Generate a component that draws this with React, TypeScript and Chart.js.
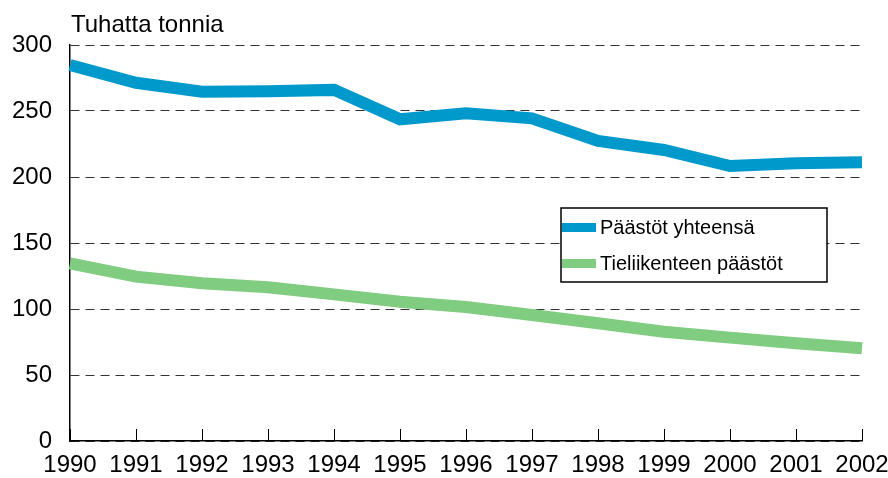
import React, { useEffect, useRef } from "react";
import { Chart, registerables } from "chart.js";

Chart.register(...registerables);

const years = ["1990", "1991", "1992", "1993", "1994", "1995", "1996", "1997", "1998", "1999", "2000", "2001", "2002"];
const totalEmissions = [284.8, 271.4, 264.6, 265.0, 266.0, 243.7, 248.2, 244.4, 227.3, 220.5, 208.3, 210.4, 211.1];
const roadEmissions = [134.6, 124.5, 119.5, 116.4, 111.1, 105.5, 101.5, 95.5, 89.2, 82.8, 78.3, 74.0, 70.2];
const seriesLabels = ["Päästöt yhteensä", "Tieliikenteen päästöt"];
const unitTitle = "Tuhatta tonnia";
const yMin = 0;
const yMax = 300;
const yStep = 50;

const FONT = "'Liberation Sans', Arial, sans-serif";

const decorPlugin = {
  id: "decor",
  afterDraw(chart: any) {
    const { ctx, chartArea } = chart;
    const xs = chart.scales.x;
    ctx.save();
    // inward tick marks on x axis
    ctx.strokeStyle = "#000";
    ctx.lineWidth = 1;
    for (let i = 0; i < xs.ticks.length; i++) {
      const px = Math.round(xs.getPixelForTick(i)) + 0.5;
      ctx.beginPath();
      ctx.moveTo(px, chartArea.bottom);
      ctx.lineTo(px, chartArea.bottom - 12);
      ctx.stroke();
    }
    // unit title
    ctx.fillStyle = "#000";
    ctx.font = `24px ${FONT}`;
    ctx.textAlign = "left";
    ctx.textBaseline = "alphabetic";
    ctx.fillText(unitTitle, chartArea.left + 1, chartArea.top - 13);
    // legend box
    const bx = 561, by = 208, bw = 266, bh = 74;
    ctx.fillStyle = "#fff";
    ctx.fillRect(bx, by, bw, bh);
    ctx.strokeStyle = "#000";
    ctx.lineWidth = 1.5;
    ctx.strokeRect(bx, by, bw, bh);
    ctx.font = `20px ${FONT}`;
    ctx.textBaseline = "middle";
    chart.data.datasets.forEach((ds: any, i: number) => {
      const cy = by + 19.5 + i * 36;
      ctx.fillStyle = ds.borderColor;
      ctx.fillRect(bx + 1, cy - 4.5, 34, 9);
      ctx.fillStyle = "#000";
      ctx.fillText(ds.label, bx + 39, cy + 1);
    });
    ctx.restore();
  },
};

export default function App() {
  const ref = useRef<HTMLCanvasElement | null>(null);
  useEffect(() => {
    document.body.style.margin = "0";
    if (!ref.current) return;
    const chart = new Chart(ref.current, {
      type: "line",
      data: {
        labels: years,
        datasets: [
          {
            label: seriesLabels[0],
            data: totalEmissions,
            borderColor: "#0099cc",
            backgroundColor: "#0099cc",
            borderWidth: 12,
            pointRadius: 0,
            tension: 0,
            borderCapStyle: "butt",
            borderJoinStyle: "miter",
            clip: false as any,
          },
          {
            label: seriesLabels[1],
            data: roadEmissions,
            borderColor: "#80cc80",
            backgroundColor: "#80cc80",
            borderWidth: 12,
            pointRadius: 0,
            tension: 0,
            borderCapStyle: "butt",
            borderJoinStyle: "miter",
            clip: false as any,
          },
        ],
      },
      options: {
        responsive: false,
        animation: false,
        layout: { padding: { top: 45, right: 26, left: 0, bottom: 0 } },
        plugins: { legend: { display: false }, tooltip: { enabled: false }, title: { display: false } },
        scales: {
          x: {
            type: "category",
            offset: false,
            grid: { display: false, drawTicks: false },
            border: { display: true, color: "#000", width: 1.5 },
            ticks: { color: "#000", font: { family: FONT, size: 24 }, padding: 10, maxRotation: 0, autoSkip: false },
            afterFit: (s: any) => { s.height = 37; s.paddingRight = 0; s.paddingLeft = 0; },
          },
          y: {
            min: yMin,
            max: yMax,
            grid: { color: "#333", lineWidth: 1, drawTicks: false },
            border: { display: true, color: "#000", width: 1.5, dash: [9, 6] },
            ticks: { stepSize: yStep, color: "#000", font: { family: FONT, size: 24 }, padding: 18 },
            afterFit: (s: any) => { s.width = 70; s.paddingTop = 0; s.paddingBottom = 0; },
          },
        },
      },
      plugins: [decorPlugin],
    } as any);
    return () => chart.destroy();
  }, []);
  return (
    <div style={{ width: 888, height: 478 }}>
      <canvas ref={ref} width={888} height={478} />
    </div>
  );
}
